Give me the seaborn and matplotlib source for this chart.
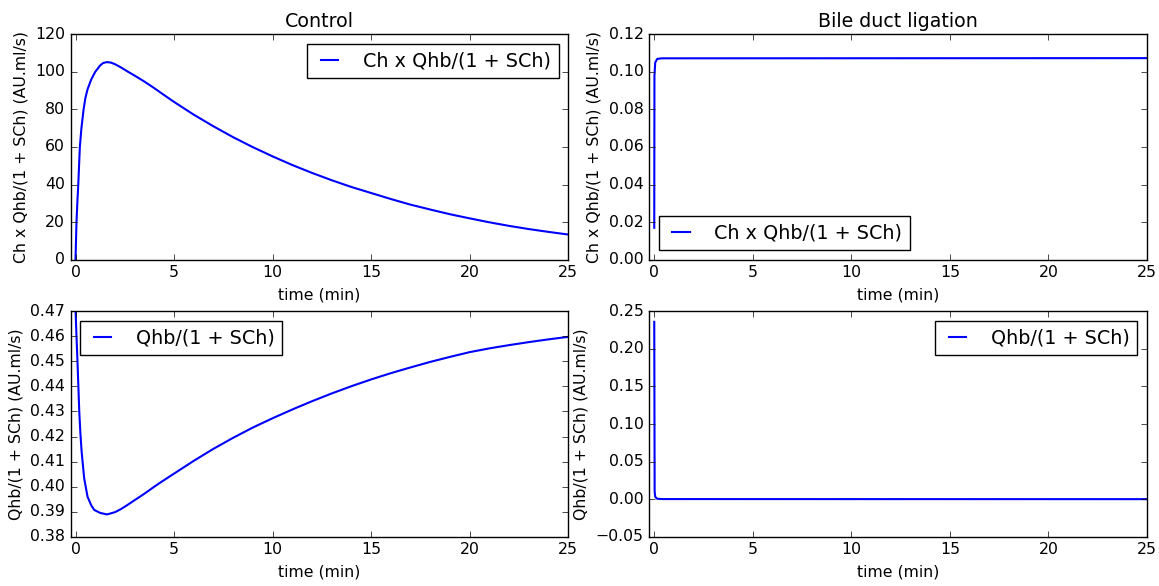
import seaborn as sns
import matplotlib
matplotlib.use("Agg")
import matplotlib.pyplot as plt

# Control
t_ctrl_top = [0, 0.05, 0.1, 0.14, 0.18, 0.22, 0.3, 0.41, 0.5, 0.61, 0.8, 1.0, 1.25, 1.4, 1.6,
              1.8, 2.0, 2.3, 2.64, 3.0, 3.5, 4.0, 4.5, 5, 6, 7, 8, 9, 10, 11, 12, 13, 14, 15,
              16, 17, 18, 19, 20, 21, 22, 23, 24, 25]
ch_ctrl = [0, 20, 32, 40, 50, 60, 70, 80, 86, 90.7, 96, 100, 103.4, 104.7, 105.2,
           104.9, 104.1, 102.4, 100.2, 98, 94.8, 91.3, 87.6, 84, 77.2, 71.0, 65.2, 59.9, 55,
           50.4, 46.2, 42.3, 38.7, 35.5, 32.3, 29.3, 26.7, 24.2, 22, 19.9, 18, 16.3, 14.8, 13.4]

t_ctrl_bot = [0, 0.05, 0.1, 0.19, 0.25, 0.31, 0.44, 0.61, 0.8, 0.95, 1.25, 1.6, 2.0, 2.3,
              2.64, 3.0, 3.5, 4.0, 4.34, 5, 6, 7, 8, 9, 10, 11, 12, 13, 14, 15,
              16, 17, 18, 19, 20, 21, 22, 23, 24, 25]
q_ctrl = [0.471, 0.46, 0.45, 0.43, 0.421, 0.414, 0.4033, 0.396, 0.3925, 0.3907, 0.3895,
          0.3889, 0.3898, 0.391, 0.3927, 0.3946, 0.3972, 0.4, 0.4018, 0.4052, 0.4103, 0.4151,
          0.4195, 0.4236, 0.4273, 0.4308, 0.4341, 0.4372, 0.4401, 0.4428, 0.4453, 0.4476,
          0.4498, 0.4518, 0.4537, 0.4552, 0.4565, 0.4577, 0.4588, 0.4598]

# Bile duct ligation
t_bdl_top = [0, 0.01, 0.05, 0.15, 0.4, 25]
ch_bdl = [0.017, 0.098, 0.105, 0.1069, 0.1072, 0.1073]

t_bdl_bot = [0, 0.02, 0.05, 0.15, 0.4, 25]
q_bdl = [0.236, 0.01, 0.003, 0.0005, 0.0001, 0.0]

lab_ch = "Ch x Qhb/(1 + SCh)"
lab_q = "Qhb/(1 + SCh)"
ylab_ch = "Ch x Qhb/(1 + SCh) (AU.ml/s)"
ylab_q = "Qhb/(1 + SCh) (AU.ml/s)"

plt.style.use("classic")
plt.rcParams["figure.facecolor"] = "white"
plt.rcParams["savefig.facecolor"] = "white"
plt.rcParams["font.family"] = ["DejaVu Sans"]

fig, axes = plt.subplots(2, 2, figsize=(11.59, 5.86), dpi=100)
fig.subplots_adjust(left=0.0609, right=0.9896, bottom=0.0841, top=0.9415,
                    wspace=0.163, hspace=0.229)

panels = [
    (axes[0, 0], t_ctrl_top, ch_ctrl, lab_ch, ylab_ch, (0, 120), "upper right", "Control"),
    (axes[0, 1], t_bdl_top, ch_bdl, lab_ch, ylab_ch, (0, 0.12), "lower left", "Bile duct ligation"),
    (axes[1, 0], t_ctrl_bot, q_ctrl, lab_q, ylab_q, (0.38, 0.47), "upper left", None),
    (axes[1, 1], t_bdl_bot, q_bdl, lab_q, ylab_q, (-0.05, 0.25), "upper right", None),
]

for ax, t, y, lab, ylab, ylim, loc, title in panels:
    sns.lineplot(x=t, y=y, ax=ax, color="b", lw=1.5, label=lab)
    ax.set_xlim(-0.25, 25)
    ax.set_ylim(*ylim)
    ax.set_xlabel("time (min)", fontsize=11.3)
    ax.set_ylabel(ylab, fontsize=11.3)
    ax.tick_params(labelsize=11.3)
    ax.legend(loc=loc, fontsize=13.8, handlelength=1.5, handletextpad=1.0)
    if title:
        ax.set_title(title, fontsize=13.7)

axes[0, 0].set_yticks(range(0, 121, 20))
axes[0, 1].set_yticks([0.00, 0.02, 0.04, 0.06, 0.08, 0.10, 0.12])
axes[1, 0].set_yticks([0.38, 0.39, 0.40, 0.41, 0.42, 0.43, 0.44, 0.45, 0.46, 0.47])
axes[1, 1].set_yticks([-0.05, 0.00, 0.05, 0.10, 0.15, 0.20, 0.25])

plt.savefig("out.png", dpi=100)
